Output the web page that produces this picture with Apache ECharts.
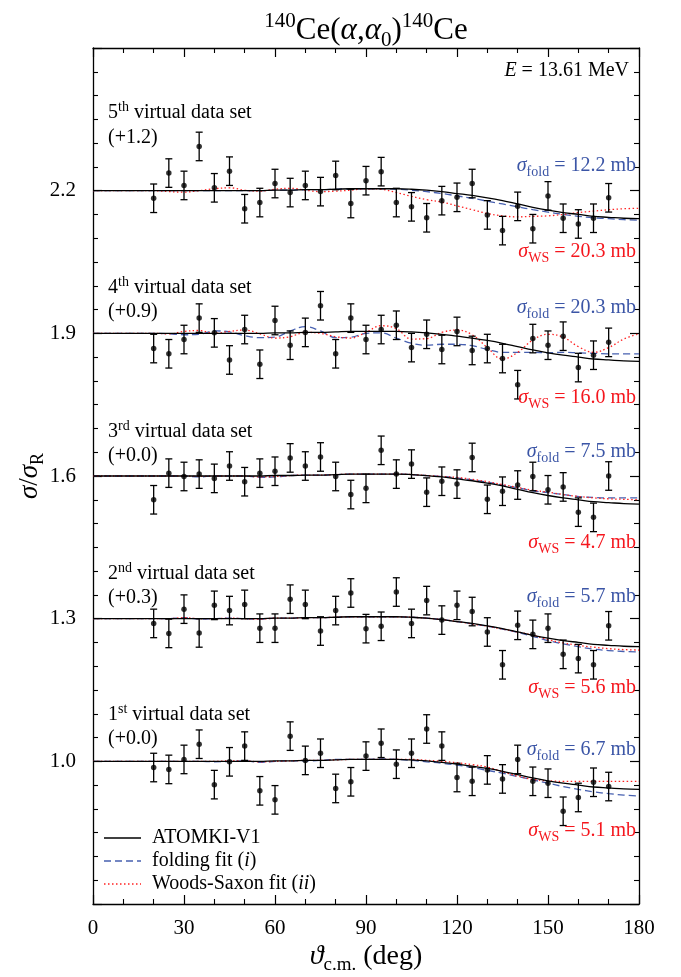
<!DOCTYPE html>
<html><head><meta charset="utf-8">
<script src="https://cdn.jsdelivr.net/npm/echarts@6/dist/echarts.min.js"></script>
<style>html,body{margin:0;padding:0;background:#fff}#c{width:681px;height:977px}</style>
</head><body><div id="c"></div>
<script>
// ---------- data ----------
const ANGLES = [20,25,30,35,40,45,50,55,60,65,70,75,80,85,90,95,100,105,110,115,120,125,130,135,140,145,150,155,160,165,170];
const CURVE_ANGLES = [0,5,10,15,20,25,30,35,40,45,50,55,60,65,70,75,80,85,90,95,100,105,110,115,120,125,130,135,140,145,150,155,160,165,170,175,180];
const ERR = 0.03;
const SHIFTS = [0, 0.3, 0.6, 0.9, 1.2];

const SET1 = [0.987,0.983,1.004,1.036,0.951,0.999,1.032,0.938,0.919,1.053,1.002,1.017,0.943,0.957,1.011,1.038,0.994,1.017,1.068,1.032,0.966,0.958,0.982,0.963,1.004,0.958,0.954,0.895,0.924,0.956,0.947];
const SET2 = [1.290,1.269,1.320,1.270,1.328,1.317,1.330,1.280,1.280,1.341,1.330,1.274,1.317,1.354,1.279,1.284,1.356,1.290,1.338,1.297,1.328,1.315,1.272,1.203,1.286,1.267,1.280,1.225,1.216,1.203,1.285];
const SET3 = [1.550,1.606,1.599,1.604,1.595,1.621,1.588,1.606,1.610,1.638,1.621,1.640,1.599,1.561,1.574,1.654,1.604,1.625,1.566,1.589,1.583,1.639,1.551,1.568,1.581,1.599,1.571,1.577,1.524,1.513,1.600];
const SET4 = [1.868,1.857,1.887,1.932,1.901,1.844,1.908,1.835,1.927,1.875,1.902,1.958,1.857,1.932,1.887,1.908,1.917,1.870,1.898,1.866,1.904,1.864,1.868,1.847,1.792,1.889,1.875,1.894,1.828,1.854,1.881];
const SET5 = [2.184,2.237,2.211,2.293,2.206,2.241,2.162,2.175,2.215,2.196,2.211,2.198,2.232,2.173,2.221,2.240,2.175,2.166,2.143,2.179,2.186,2.215,2.149,2.116,2.167,2.120,2.189,2.142,2.130,2.142,2.185];

// ATOMKI-V1 ratio (unshifted)
const ATOMKI = [1.000,1.000,1.000,1.000,1.000,1.000,1.000,1.000,1.000,1.000,1.000,1.000,1.001,1.001,1.002,1.002,1.003,1.004,1.004,1.004,1.004,1.003,1.001,0.998,0.994,0.990,0.985,0.979,0.972,0.965,0.959,0.954,0.950,0.946,0.944,0.942,0.941];

const FOLD1 = [1.000,1.000,1.000,1.000,1.000,1.000,1.000,1.000,0.999,1.000,1.001,0.998,1.000,1.001,1.001,1.002,1.004,1.004,1.004,1.005,1.004,1.002,0.999,0.996,0.992,0.987,0.981,0.975,0.968,0.961,0.954,0.947,0.941,0.936,0.932,0.929,0.927];
const WS1   = [1.000,1.000,1.000,1.000,1.000,1.000,1.000,1.000,1.000,1.001,1.001,0.999,1.000,1.001,1.002,1.002,1.003,1.004,1.004,1.004,1.004,1.004,1.002,1.000,0.997,0.993,0.988,0.978,0.969,0.962,0.959,0.958,0.958,0.958,0.958,0.958,0.958];
const FOLD2 = [1.300,1.300,1.300,1.300,1.300,1.300,1.302,1.299,1.300,1.301,1.300,1.299,1.301,1.301,1.302,1.302,1.303,1.304,1.304,1.304,1.304,1.303,1.301,1.298,1.294,1.289,1.284,1.278,1.271,1.263,1.254,1.247,1.241,1.236,1.233,1.231,1.230];
const WS2   = [1.300,1.300,1.300,1.300,1.300,1.300,1.302,1.300,1.300,1.301,1.300,1.299,1.301,1.301,1.302,1.302,1.303,1.304,1.304,1.304,1.304,1.303,1.301,1.298,1.294,1.289,1.284,1.278,1.272,1.265,1.256,1.249,1.244,1.240,1.237,1.235,1.234];
const FOLD3 = [1.600,1.600,1.600,1.600,1.600,1.600,1.600,1.598,1.600,1.600,1.600,1.597,1.598,1.601,1.602,1.602,1.603,1.604,1.604,1.604,1.604,1.603,1.601,1.599,1.596,1.592,1.587,1.581,1.575,1.569,1.565,1.561,1.557,1.555,1.554,1.554,1.554];
const WS3   = [1.600,1.600,1.600,1.600,1.600,1.600,1.600,1.599,1.600,1.600,1.600,1.598,1.599,1.601,1.602,1.602,1.603,1.604,1.604,1.604,1.604,1.603,1.601,1.599,1.597,1.593,1.588,1.582,1.576,1.570,1.566,1.561,1.557,1.554,1.552,1.551,1.550];
const FOLD4 = [1.900,1.900,1.900,1.900,1.900,1.899,1.897,1.898,1.905,1.903,1.895,1.891,1.892,1.905,1.914,1.905,1.891,1.892,1.900,1.901,1.890,1.879,1.875,1.877,1.877,1.874,1.866,1.860,1.860,1.860,1.859,1.860,1.859,1.858,1.857,1.857,1.857];
const WS4   = [1.900,1.900,1.900,1.900,1.900,1.899,1.904,1.906,1.900,1.904,1.907,1.899,1.890,1.893,1.902,1.900,1.893,1.890,1.902,1.916,1.910,1.888,1.889,1.902,1.907,1.897,1.870,1.846,1.860,1.886,1.898,1.892,1.872,1.860,1.870,1.888,1.899];
const FOLD5 = [2.200,2.200,2.200,2.200,2.200,2.200,2.200,2.200,2.200,2.200,2.200,2.200,2.201,2.201,2.202,2.202,2.203,2.204,2.204,2.204,2.203,2.201,2.198,2.194,2.189,2.184,2.178,2.172,2.166,2.160,2.155,2.150,2.146,2.143,2.141,2.139,2.138];
const WS5   = [2.200,2.200,2.200,2.200,2.200,2.198,2.197,2.200,2.204,2.206,2.201,2.199,2.203,2.205,2.201,2.198,2.199,2.201,2.204,2.203,2.196,2.188,2.181,2.176,2.168,2.160,2.152,2.147,2.145,2.146,2.147,2.150,2.154,2.157,2.160,2.162,2.163];

const SETS = [SET1, SET2, SET3, SET4, SET5];
const FOLDS = [FOLD1, FOLD2, FOLD3, FOLD4, FOLD5];
const WSS = [WS1, WS2, WS3, WS4, WS5];
const SET_ORD = ['1', '2', '3', '4', '5'];
const SET_SUP = ['st', 'nd', 'rd', 'th', 'th'];
const SET_SHIFT_TXT = ['(+0.0)', '(+0.3)', '(+0.0)', '(+0.9)', '(+1.2)'];
const FOLD_MB = ['6.7', '5.7', '7.5', '20.3', '12.2'];
const WS_MB = ['5.1', '5.6', '4.7', '16.0', '20.3'];
const Y_TICKS_SHOWN = [1.0, 1.3, 1.6, 1.9, 2.2];

// ---------- styles ----------
const FF = '"Liberation Serif","Times New Roman",serif';
const BLUE = '#4760b0';
const RED = '#ff2020';
const TXT_BLUE = '#3b55a6';
const TXT_RED = '#f5161d';

function rich(s, c) {
  const b = {fontFamily: FF, fill: c, color: c};
  return {
    n: Object.assign({fontSize: s, lineHeight: Math.round(s * 1.3)}, b),
    i: Object.assign({fontSize: s, fontStyle: 'italic', lineHeight: Math.round(s * 1.3)}, b),
    sub: Object.assign({fontSize: Math.round(s * 0.68), verticalAlign: 'bottom', lineHeight: 4}, b),
    subi: Object.assign({fontSize: Math.round(s * 0.68), fontStyle: 'italic', verticalAlign: 'bottom', lineHeight: 4}, b),
    sup: Object.assign({fontSize: Math.round(s * 0.68), verticalAlign: 'top', lineHeight: 4}, b)
  };
}
function txt(x, y, text, size, color, align, rot) {
  return {
    type: 'text', x: x, y: y, rotation: rot || 0, silent: true, z: 100,
    style: {
      text: text, rich: rich(size, color), font: size + 'px ' + FF, fill: color,
      align: align, textAlign: align, verticalAlign: 'middle', textVerticalAlign: 'middle'
    }
  };
}

// ---------- series ----------
const series = [];
function zip(xs, ys) { return xs.map((x, i) => [x, ys[i]]); }
for (let k = 0; k < 5; k++) {
  series.push({
    type: 'line', data: zip(CURVE_ANGLES, ATOMKI.map(v => v + SHIFTS[k])), showSymbol: false, smooth: 0.4,
    lineStyle: {color: '#000', width: 1.3}, z: 3, silent: true
  });
  series.push({
    type: 'line', data: zip(CURVE_ANGLES, FOLDS[k]), showSymbol: false, smooth: 0.4,
    lineStyle: {color: BLUE, width: 1.3, type: [7, 4]}, z: 2, silent: true
  });
  series.push({
    type: 'line', data: zip(CURVE_ANGLES, WSS[k]), showSymbol: false, smooth: 0.4,
    lineStyle: {color: RED, width: 1.3, type: [1.5, 2.5]}, z: 2, silent: true
  });
  series.push({
    type: 'custom', z: 5, silent: true,
    data: ANGLES.map((a, i) => [a, SETS[k][i] - ERR, SETS[k][i] + ERR]),
    encode: {x: 0, y: [1, 2]},
    renderItem: function (params, api) {
      const x = api.value(0);
      const p1 = api.coord([x, api.value(1)]);
      const p2 = api.coord([x, api.value(2)]);
      const w = 3.5;
      const st = {stroke: '#000', lineWidth: 1.3};
      return {type: 'group', children: [
        {type: 'line', shape: {x1: p1[0], y1: p1[1], x2: p2[0], y2: p2[1]}, style: st},
        {type: 'line', shape: {x1: p1[0] - w, y1: p1[1], x2: p1[0] + w, y2: p1[1]}, style: st},
        {type: 'line', shape: {x1: p2[0] - w, y1: p2[1], x2: p2[0] + w, y2: p2[1]}, style: st}
      ]};
    }
  });
  series.push({
    type: 'scatter', data: zip(ANGLES, SETS[k]), symbol: 'circle', symbolSize: 5.5,
    itemStyle: {color: '#000'}, z: 6, silent: true
  });
}

// ---------- axes ----------
const axisLine = {show: true, onZero: false, lineStyle: {color: '#000', width: 1.3}};
const tick = {show: true, inside: true, length: 9, lineStyle: {color: '#000', width: 1.2}};
function minor(n) { return {show: true, splitNumber: n, length: 5, lineStyle: {color: '#000', width: 1.1}}; }
const labelFont = {fontFamily: FF, fontSize: 21, color: '#000'};

// ---------- graphic texts ----------
const LABEL_Y = [[715, 739], [574, 598], [432, 456], [288, 312], [113, 138]];
const FOLD_Y = [750, 597, 452, 308, 166];
const WS_Y = [831, 688, 543, 398, 252];
const graphics = [];
graphics.push(txt(366, 31, '{sup|140}{n|Ce(}{i|α}{n|,}{i|α}{sub|0}{n|)}{sup|140}{n|Ce}', 31, '#000', 'center'));
graphics.push(txt(629, 71, '{i|E}{n| = 13.61 MeV}', 20, '#000', 'right'));
graphics.push(txt(30, 476, '{i|σ}{n|/}{i|σ}{sub|R}', 27, '#000', 'center', Math.PI / 2));
graphics.push(txt(366, 957, '{i|ϑ}{sub|c.m.}{n| (deg)}', 28, '#000', 'center'));
for (let k = 0; k < 5; k++) {
  graphics.push(txt(108, LABEL_Y[k][0], '{n|' + SET_ORD[k] + '}{sup|' + SET_SUP[k] + '}{n| virtual data set}', 20, '#000', 'left'));
  graphics.push(txt(108, LABEL_Y[k][1], '{n|' + SET_SHIFT_TXT[k] + '}', 20, '#000', 'left'));
  graphics.push(txt(636, FOLD_Y[k], '{i|σ}{sub|fold}{n| = ' + FOLD_MB[k] + ' mb}', 20, TXT_BLUE, 'right'));
  graphics.push(txt(636, WS_Y[k], '{i|σ}{sub|WS}{n| = ' + WS_MB[k] + ' mb}', 20, TXT_RED, 'right'));
}
// legend
const LEG_Y = [838, 861, 884];
graphics.push({type: 'line', silent: true, shape: {x1: 104, y1: LEG_Y[0], x2: 141, y2: LEG_Y[0]}, style: {stroke: '#000', lineWidth: 1.3}});
graphics.push({type: 'line', silent: true, shape: {x1: 104, y1: LEG_Y[1], x2: 141, y2: LEG_Y[1]}, style: {stroke: BLUE, lineWidth: 1.3, lineDash: [7, 4]}});
graphics.push({type: 'line', silent: true, shape: {x1: 104, y1: LEG_Y[2], x2: 141, y2: LEG_Y[2]}, style: {stroke: RED, lineWidth: 1.3, lineDash: [1.5, 2.5]}});
graphics.push(txt(152, LEG_Y[0], '{n|ATOMKI-V1}', 20, '#000', 'left'));
graphics.push(txt(152, LEG_Y[1], '{n|folding fit (}{i|i}{n|)}', 20, '#000', 'left'));
graphics.push(txt(152, LEG_Y[2], '{n|Woods-Saxon fit (}{i|ii}{n|)}', 20, '#000', 'left'));

const chart = echarts.init(document.getElementById('c'), null, {renderer: 'canvas'});
chart.setOption({
  animation: false,
  backgroundColor: '#fff',
  grid: {left: 93, right: 42, top: 48, bottom: 73, containLabel: false},
  xAxis: [
    {type: 'value', min: 0, max: 180, interval: 30, position: 'bottom', axisLine: axisLine, axisTick: tick,
     minorTick: minor(3), splitLine: {show: false}, axisLabel: Object.assign({margin: 14}, labelFont)},
    {type: 'value', min: 0, max: 180, interval: 30, position: 'top', axisLine: axisLine, axisTick: tick,
     minorTick: minor(3), splitLine: {show: false}, axisLabel: {show: false}}
  ],
  yAxis: [
    {type: 'value', min: 0.7, max: 2.5, interval: 0.3, position: 'left', axisLine: axisLine, axisTick: tick,
     minorTick: minor(6), splitLine: {show: false},
     axisLabel: Object.assign({margin: 17, formatter: function (v) {
       const hit = Y_TICKS_SHOWN.find(t => Math.abs(t - v) < 1e-6);
       return hit !== undefined ? hit.toFixed(1) : '';
     }}, labelFont)},
    {type: 'value', min: 0.7, max: 2.5, interval: 0.3, position: 'right', axisLine: axisLine, axisTick: tick,
     minorTick: minor(6), splitLine: {show: false}, axisLabel: {show: false}}
  ],
  series: series,
  graphic: graphics
});
</script>
</body></html>
